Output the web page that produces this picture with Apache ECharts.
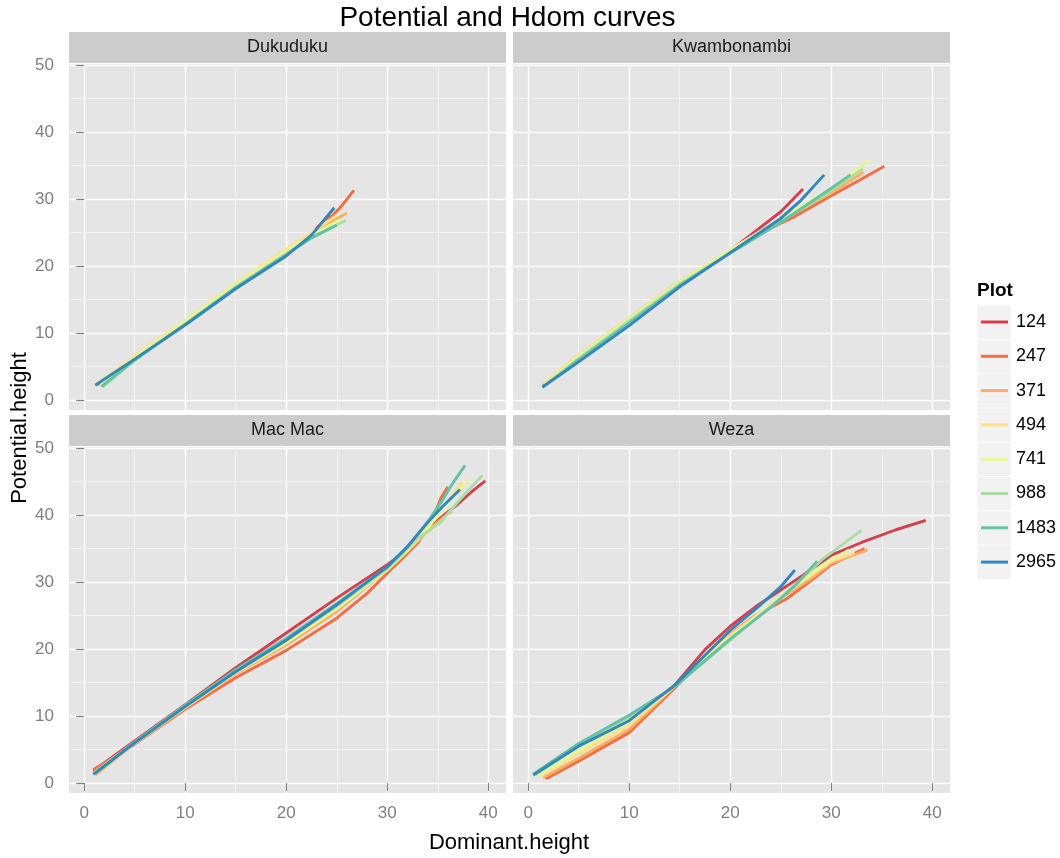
<!DOCTYPE html>
<html><head><meta charset="utf-8">
<script src="https://cdn.jsdelivr.net/npm/echarts@6/dist/echarts.min.js"></script>
<style>html,body{margin:0;padding:0;background:#fff}#c{width:1060px;height:858px}</style>
</head><body><div id="c"></div>
<script>
// ---- data ----
const plots = ['124','247','371','494','741','988','1483','2965'];
const colors = ['#D53E4F','#F46D43','#FDAE61','#FEE08B','#E6F598','#ABDDA4','#66C2A5','#3288BD'];
const panels = ['Dukuduku','Kwambonambi','Mac Mac','Weza'];
const xTicks = [0,10,20,30,40];
const yTicks = [0,10,20,30,40,50];
const xMinor = [5,15,25,35];
const yMinor = [5,15,25,35,45];

// [Dominant.height, Potential.height] per plot
const dukuduku = [
 [[1.3,2.3],[5,6.3],[10,11.4],[15,16.8],[20,21.9],[22.5,24.8],[23.5,26.4],[24.3,27.7]],
 [[1.4,2.4],[5,6.4],[10,11.6],[15,17.0],[20,22.0],[22.5,24.8],[24.5,27.4],[25.5,29.0],[26.7,31.3]],
 [[1.5,2.3],[5,6.5],[10,11.7],[15,17.1],[20,22.2],[23,25.2],[24.5,26.6],[26,27.9]],
 [[1.4,2.5],[5,6.6],[10,11.9],[15,17.4],[20,22.5],[22.5,25.0],[25,27.6]],
 [[1.6,2.3],[5,6.4],[10,11.8],[15,17.3],[20,22.3],[22.5,24.6],[25.3,26.9]],
 [[1.8,1.9],[5,5.9],[10,11.3],[15,16.8],[20,21.8],[22.5,24.2],[24,25.4],[25.9,26.8]],
 [[1.7,2.0],[5,6.0],[10,11.3],[15,16.8],[20,21.7],[22.5,24.2],[25,26.1]],
 [[1.1,2.2],[5,6.1],[10,11.2],[15,16.6],[20,21.5],[22.5,24.6],[23.5,26.4],[24.75,28.7]]
];
const kwambonambi = [
 [[1.5,2.2],[5,6.3],[10,11.8],[15,17.4],[20,22.3],[22,24.6],[25,28.1],[27.2,31.5]],
 [[1.6,2.3],[5,6.5],[10,12.0],[15,17.6],[20,22.2],[23,25.0],[26.3,27.3],[30,30.5],[33,33.0],[35.25,34.9]],
 [[1.6,2.4],[5,6.7],[10,12.2],[15,17.7],[20,22.3],[25,26.8],[30,30.9],[33.2,34.0]],
 [[1.5,2.4],[5,6.7],[10,12.2],[15,17.7],[20,22.4],[25,27.0],[30,31.3],[32.5,34.3]],
 [[1.7,2.3],[5,6.6],[10,12.1],[15,17.6],[20,22.4],[25,27.1],[30,31.6],[33.9,35.9]],
 [[1.6,2.1],[5,6.2],[10,11.8],[15,17.3],[20,22.0],[25,26.6],[30,31.2],[33.1,34.5]],
 [[1.5,2.0],[5,6.0],[10,11.5],[15,17.1],[20,21.9],[25,26.5],[30,31.6],[31.9,33.6]],
 [[1.4,1.9],[5,5.7],[10,11.1],[15,16.9],[20,22.0],[25,27.1],[27,29.8],[29.3,33.6]]
];
const macmac = [
 [[0.9,1.8],[5,6.3],[10,11.7],[15,17.2],[20,22.4],[25,27.6],[30,32.6],[32,34.8],[34,37.8],[35.3,39.6],[36.9,41.5],[38.3,43.4],[39.7,45.1]],
 [[0.9,2.0],[5,5.8],[10,11.0],[15,15.7],[20,19.8],[25,24.6],[28,28.3],[30,31.3],[31.5,33.5],[33,35.8],[34.5,39.5],[35.3,42.5],[36,44.2]],
 [[1.1,1.2],[5,5.9],[10,11.2],[15,16.3],[20,20.6],[25,25.6],[30,31.8],[32,34.6],[34,37.6],[35.5,39.6],[36.4,40.6]],
 [[1.0,1.4],[5,6.0],[10,11.4],[15,16.6],[20,21.0],[25,26.2],[30,32.0],[32,34.9],[34,38.3],[35.8,41.5],[37.4,45.0]],
 [[1.1,1.5],[5,6.0],[10,11.3],[15,16.5],[20,20.9],[25,26.0],[30,31.8],[32,34.7],[34,38.0],[36,41.8],[38.05,45.2]],
 [[1.0,1.6],[5,6.1],[10,11.5],[15,16.7],[20,21.3],[25,26.4],[30,32.0],[33,36.5],[35.2,38.8],[37.3,42.5],[39.4,45.9]],
 [[1.1,1.4],[5,6.1],[10,11.6],[15,16.9],[20,21.6],[25,26.8],[30,32.2],[32,35.2],[34,39.0],[35.5,42.3],[36.5,44.8],[37.7,47.4]],
 [[0.9,1.3],[5,6.0],[10,11.4],[15,16.6],[20,21.3],[25,26.6],[30,32.3],[32,35.3],[34,38.9],[35.5,41.3],[37.2,43.8]]
];
const weza = [
 [[1.7,0.7],[5,3.3],[10,7.7],[14.5,14.6],[17.5,19.9],[20,23.4],[22.5,26.3],[25,28.8],[27,30.8],[30,34.0],[33,35.9],[36.4,37.8],[39.35,39.2]],
 [[1.9,0.7],[5,3.3],[10,7.5],[14.6,14.3],[17.5,18.8],[20,22.2],[22.5,25.0],[25.6,27.5],[28,30.2],[30,32.6],[33.3,35.0]],
 [[1.5,0.8],[5,3.7],[10,8.0],[14.5,14.4],[20,22.2],[25,27.6],[28,30.5],[30,32.8],[33.6,34.8]],
 [[1.1,1.0],[5,4.4],[10,8.6],[14.5,14.5],[20,22.0],[25,27.8],[28,31.0],[30,33.1],[32.3,34.3]],
 [[1.0,1.1],[5,4.9],[10,9.2],[14.5,14.5],[20,21.7],[25,27.8],[28,31.3],[30,33.3],[31.8,34.8]],
 [[0.7,1.2],[5,5.6],[10,9.8],[14.5,14.4],[20,21.3],[25,27.6],[29.2,33.5],[33.0,37.7]],
 [[0.5,1.3],[5,5.9],[10,10.1],[14.5,14.4],[20,21.5],[24,26.2],[26.5,29.6],[28.6,33.1]],
 [[0.5,1.2],[5,5.5],[10,9.3],[14.5,14.6],[20,22.8],[23,26.6],[25,29.3],[26.4,31.8]]
];
const panelData = [dukuduku, kwambonambi, macmac, weza];

// ---- layout ----
const FONT = "'Liberation Sans', Arial, sans-serif";
const W = 437, H = 346;
const lefts = [69, 513, 69, 513];
const tops = [64, 64, 447, 447];
const XMIN = -1.5, XMAX = 41.75, YMIN = -1.49, YMAX = 50.15;

const grid = [], xAxis = [], yAxis = [], series = [], graphic = [];
for (let p = 0; p < 4; p++) {
  grid.push({left: lefts[p], top: tops[p], width: W, height: H, show: true,
    backgroundColor: '#E5E5E5', borderWidth: 0});
  const bottomRow = p >= 2, leftCol = p % 2 === 0;
  xAxis.push({type: 'value', gridIndex: p, min: XMIN, max: XMAX, z: 1,
    axisLine: {show: false},
    axisTick: {show: bottomRow, length: 8, customValues: xTicks, lineStyle: {color: '#7F7F7F', width: 1.1}},
    axisLabel: {show: bottomRow, customValues: xTicks, color: '#7F7F7F', fontSize: 17, margin: 12, fontFamily: FONT},
    splitLine: {show: true, lineStyle: {color: '#FFFFFF', width: 1.4}}});
  xAxis.push({type: 'value', gridIndex: p, min: XMIN, max: XMAX, z: 0, position: 'top',
    axisLine: {show: false}, axisTick: {show: false, customValues: xMinor}, axisLabel: {show: false},
    splitLine: {show: true, lineStyle: {color: '#F2F2F2', width: 1}}});
  yAxis.push({type: 'value', gridIndex: p, min: YMIN, max: YMAX, z: 1,
    axisLine: {show: false},
    axisTick: {show: leftCol, length: 8, customValues: yTicks, lineStyle: {color: '#7F7F7F', width: 1.1}},
    axisLabel: {show: leftCol, customValues: yTicks, color: '#7F7F7F', fontSize: 17, margin: 15, fontFamily: FONT},
    splitLine: {show: true, lineStyle: {color: '#FFFFFF', width: 1.4}}});
  yAxis.push({type: 'value', gridIndex: p, min: YMIN, max: YMAX, z: 0, position: 'right',
    axisLine: {show: false}, axisTick: {show: false, customValues: yMinor}, axisLabel: {show: false},
    splitLine: {show: true, lineStyle: {color: '#F2F2F2', width: 1}}});
  panelData[p].forEach((d, s) => {
    series.push({type: 'line', name: plots[s], xAxisIndex: 2 * p, yAxisIndex: 2 * p,
      data: d, showSymbol: false, symbol: 'none', silent: true,
      lineStyle: {color: colors[s], width: 2.9}, itemStyle: {color: colors[s]}});
  });
  // strip
  graphic.push({type: 'rect', shape: {x: lefts[p], y: tops[p] - 32, width: W, height: 31},
    style: {fill: '#CCCCCC'}, z: 0, silent: true});
  graphic.push({type: 'text', x: lefts[p] + W / 2, y: tops[p] - 16.5,
    style: {text: panels[p], fill: '#1A1A1A', font: '18px ' + FONT, textAlign: 'center', textVerticalAlign: 'middle'}, z: 1});
}
// titles
graphic.push({type: 'text', x: 507.5, y: 18, style: {text: 'Potential and Hdom curves', fill: '#000',
  font: '28px ' + FONT, textAlign: 'center', textVerticalAlign: 'middle'}});
graphic.push({type: 'text', x: 509, y: 843, style: {text: 'Dominant.height', fill: '#000',
  font: '22px ' + FONT, textAlign: 'center', textVerticalAlign: 'middle'}});
graphic.push({type: 'text', x: 20, y: 428, rotation: Math.PI / 2, style: {text: 'Potential.height', fill: '#000',
  font: '22px ' + FONT, textAlign: 'center', textVerticalAlign: 'middle'}});
// legend keys
graphic.push({type: 'text', x: 977, y: 291, style: {text: 'Plot', fill: '#000',
  font: 'bold 19px ' + FONT, textAlign: 'left', textVerticalAlign: 'middle'}});
plots.forEach((_, i) => {
  graphic.push({type: 'rect', shape: {x: 977.5, y: 305.5 + i * 34.3, width: 33, height: 33.3},
    style: {fill: '#F2F2F2'}, z: 0, silent: true});
});

const chart = echarts.init(document.getElementById('c'), null, {renderer: 'canvas'});
chart.setOption({
  animation: false,
  backgroundColor: '#FFFFFF',
  grid, xAxis, yAxis, series, graphic,
  legend: {data: plots, orient: 'vertical', left: 981, top: 312, padding: 0,
    itemWidth: 27, itemHeight: 3, itemGap: 14.3, icon: 'rect', selectedMode: false, z: 10,
    textStyle: {fontSize: 18, color: '#000', lineHeight: 20, fontFamily: FONT, padding: [0, 0, 0, 3]}}
});
</script></body></html>
